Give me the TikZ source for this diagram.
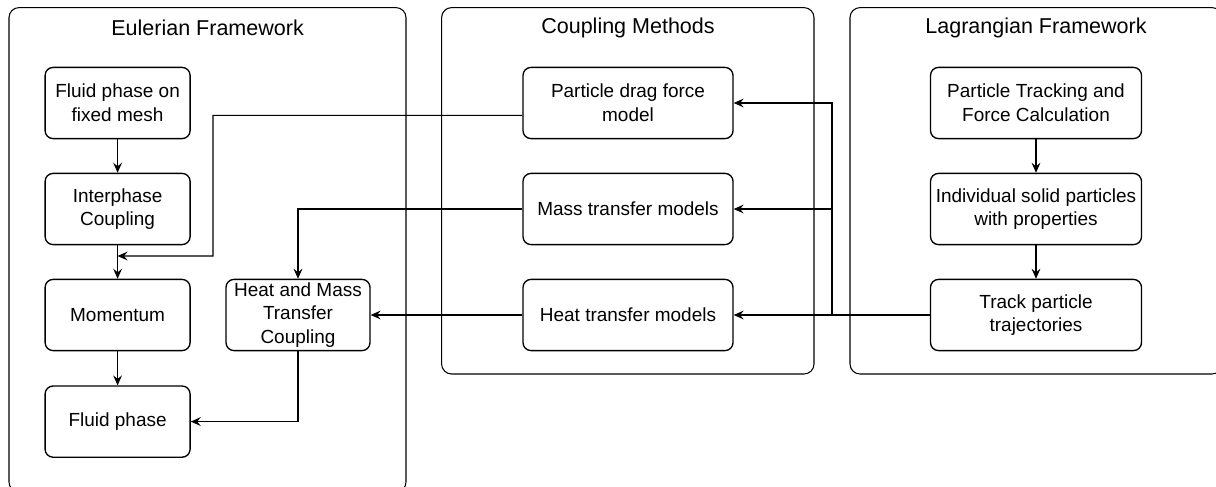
\documentclass[tikz,border=0pt]{standalone}
\usepackage{fontspec}
\setmainfont{Liberation Sans}
\usetikzlibrary{arrows.meta, positioning, calc}

\begin{document}
\begin{tikzpicture}[
  frame/.style={draw, rounded corners=0.25cm, line width=0.75pt},
  title/.style={font=\fontsize{15.3}{18}\selectfont},
  box/.style={draw, rounded corners=0.2cm, line width=0.95pt, align=center,
    minimum height=1.78cm, inner sep=1pt, font=\fontsize{13.5}{16.8}\selectfont},
  link/.style={-{Stealth[length=2.5mm, width=2.2mm, inset=0.9mm]}, line width=0.75pt},
]
\useasboundingbox (0,0) rectangle (30.4,-12.15);

% the three frameworks
\draw[frame] (0.225,-0.19) rectangle (10.15,-12.3);
\draw[frame] (11.04,-0.19) rectangle (20.35,-9.35);
\draw[frame] (21.25,-0.19) rectangle (30.55,-9.35);
\node[title] (eultitle) at (5.19,-0.7)  {Eulerian Framework};
\node[title] (coutitle) at (15.7,-0.7)  {Coupling Methods};
\node[title] (lagtitle) at (25.9,-0.7)  {Lagrangian Framework};

% Eulerian side
\node[box, minimum width=3.625cm] (mesh)  at (2.94,-2.575)  {Fluid phase on\\fixed mesh};
\node[box, minimum width=3.625cm] (inter) at (2.94,-5.225)  {Interphase\\Coupling};
\node[box, minimum width=3.625cm] (mom)   at (2.94,-7.875)  {Momentum};
\node[box, minimum width=3.625cm] (fluid) at (2.94,-10.54)  {Fluid phase};
\node[box, minimum width=3.6cm]   (hmtc)  at (7.45,-7.875)  {Heat and Mass\\Transfer\\Coupling};

% coupling models
\node[box, minimum width=5.25cm] (drag) at (15.7,-2.575) {Particle drag force\\model};
\node[box, minimum width=5.25cm] (mass) at (15.7,-5.225) {Mass transfer models};
\node[box, minimum width=5.25cm] (heat) at (15.7,-7.875) {Heat transfer models};

% Lagrangian side
\node[box, minimum width=5.275cm] (force) at (25.9,-2.575) {Particle Tracking and\\Force Calculation};
\node[box, minimum width=5.275cm] (solid) at (25.9,-5.225) {Individual solid particles\\with properties};
\node[box, minimum width=5.275cm] (track) at (25.9,-7.875) {Track particle\\trajectories};

\coordinate (join) at (2.94,-6.4);
\coordinate (bus)  at (20.8,-7.875);

\draw[link] (mesh) -- (inter);
\draw[link] (inter) -- (mom);
\draw[link] (mom) -- (fluid);
\draw[link] (force) -- (solid);
\draw[link] (solid) -- (track);

\draw[link] ([yshift=-3.1mm]drag.west) -- (5.325,-2.885) |- (join);
\draw[link] (mass.west) -| (hmtc.north);
\draw[link] (heat.west) -- (hmtc.east);
\draw[link] (hmtc.south) |- (fluid.east);

\draw[link] (track.west) -- (heat.east);
\draw[link] (bus) |- (drag.east);
\draw[link] (bus |- mass.east) -- (mass.east);

\end{tikzpicture}
\end{document}
